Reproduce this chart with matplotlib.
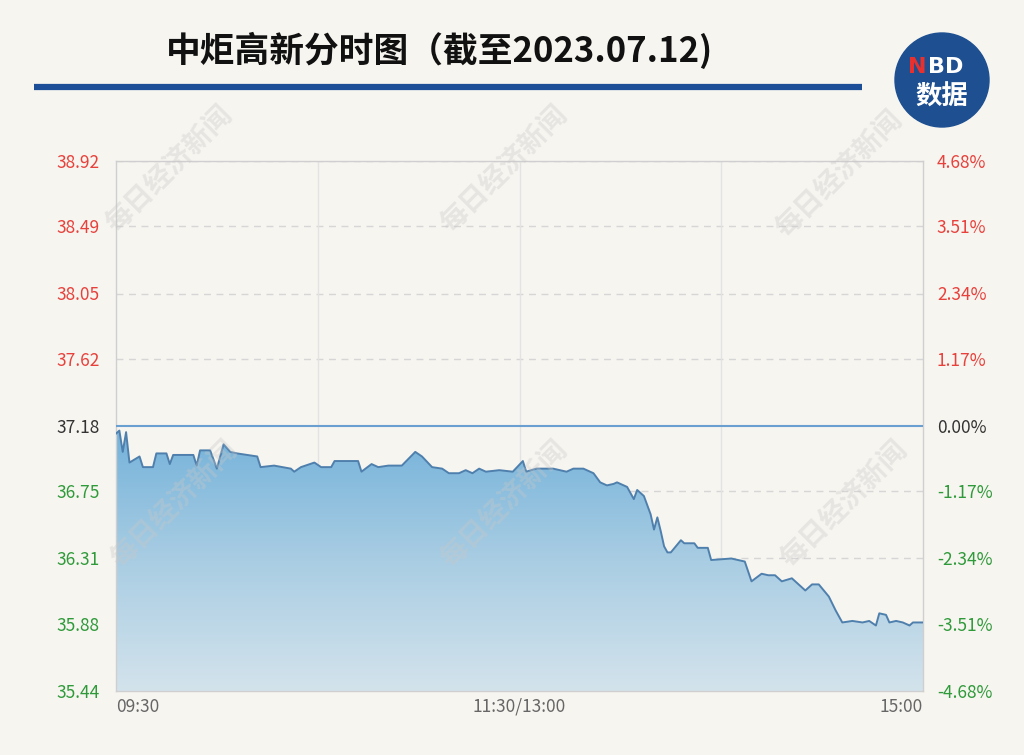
import numpy as np
import matplotlib
matplotlib.use("Agg")
import matplotlib.pyplot as plt
from matplotlib.patches import Circle
from matplotlib.colors import LinearSegmentedColormap

plt.rcParams['font.family'] = ['Noto Sans CJK SC', 'DejaVu Sans']

# ---------------- data ----------------
title = "中炬高新分时图（截至2023.07.12)"
prev_close = 37.18
minutes = [0, 1, 2, 3, 4, 7, 8, 11, 12, 15, 16, 17, 23, 24, 25, 28, 30, 32, 34, 36, 42, 43,
           47, 52, 53, 55, 59, 61, 64, 65, 72, 73, 76, 78, 81, 85, 89, 91, 94, 97, 99, 102,
           104, 106, 108, 110, 114, 118, 121, 122, 125, 130, 134, 136, 139, 142, 144, 146,
           148, 149, 151, 152, 154, 155, 157, 159, 160, 161, 162, 163, 164, 165, 168, 169,
           172, 173, 176, 177, 183, 185, 187, 189, 192, 194, 196, 198, 201, 203, 205, 207,
           209, 212, 214, 216, 219, 222, 224, 226, 227, 229, 230, 232, 234, 236, 237, 240]
prices = [37.13, 37.15, 37.01, 37.14, 36.94, 36.98, 36.91, 36.91, 37.00, 37.00, 36.93, 36.99,
          36.99, 36.92, 37.02, 37.02, 36.90, 37.06, 37.01, 37.00, 36.98, 36.91,
          36.92, 36.90, 36.88, 36.91, 36.94, 36.91, 36.91, 36.95, 36.95, 36.88, 36.93, 36.91,
          36.92, 36.92, 37.01, 36.98, 36.91, 36.90, 36.87, 36.87,
          36.89, 36.87, 36.90, 36.88, 36.89, 36.88, 36.95, 36.88, 36.90, 36.90, 36.88, 36.90,
          36.90, 36.87, 36.81, 36.79,
          36.80, 36.81, 36.79, 36.78, 36.70, 36.76, 36.72, 36.60, 36.50, 36.58, 36.49, 36.39,
          36.35, 36.35, 36.43, 36.41,
          36.41, 36.38, 36.38, 36.30, 36.31, 36.30, 36.29, 36.16, 36.21, 36.20, 36.20, 36.16,
          36.18, 36.14, 36.10, 36.14,
          36.14, 36.06, 35.97, 35.89, 35.90, 35.89, 35.90, 35.87, 35.95, 35.94, 35.89, 35.90,
          35.89, 35.87, 35.89, 35.89]
price_ticks = [38.92, 38.49, 38.05, 37.62, 37.18, 36.75, 36.31, 35.88, 35.44]
pct_labels = ["4.68%", "3.51%", "2.34%", "1.17%", "0.00%", "-1.17%", "-2.34%", "-3.51%", "-4.68%"]
time_ticks = [0, 120, 240]
time_labels = ["09:30", "11:30/13:00", "15:00"]

# ---------------- styling ----------------
BG = "#f7f5f0"
RED = "#e8413c"
GREEN = "#2f9a3a"
DARK = "#333333"

fig = plt.figure(figsize=(10.24, 7.55), dpi=100, facecolor=BG)
ax = fig.add_axes([116/1024, 1-691/755, (923-116)/1024, (691-161)/755])
ax.set_facecolor(BG)

x = np.array(minutes, dtype=float)
y = np.array(prices)
ymin, ymax = price_ticks[-1], price_ticks[0]
ax.set_xlim(0, 240)
ax.set_ylim(ymin, ymax)

# gradient fill under line
poly = ax.fill_between(x, y, ymin, color='none', lw=0)
cmap = LinearSegmentedColormap.from_list("g", ["#d3e3ec", "#a9cde3", "#74b2da"])
grad = np.linspace(0, 1, 256).reshape(-1, 1)
im = ax.imshow(grad, cmap=cmap, aspect='auto', origin='lower',
               extent=[0, 240, ymin, max(prices)], zorder=1)
path = poly.get_paths()[0]
im.set_clip_path(path, transform=ax.transData)

ax.plot(x, y, color="#4f80ad", lw=1.4, zorder=3)

# grid
for t in price_ticks:
    if abs(t - prev_close) > 1e-6:
        ax.axhline(t, color="#d6d6d6", lw=1, ls=(0, (5, 4)), zorder=0.5)
ax.axhline(prev_close, color="#6a9fd2", lw=1.5, zorder=4)
for v in [60, 120, 180]:
    ax.axvline(v, color="#e3e3e3", lw=1, zorder=0.5)

for s in ax.spines.values():
    s.set_color("#cfcfcf")
    s.set_linewidth(1)

ax.set_yticks(price_ticks)
ax.set_yticklabels([f"{t:.2f}" for t in price_ticks])
ax.tick_params(axis='y', length=0, pad=12, labelsize=12.5)
for lab, t in zip(ax.get_yticklabels(), price_ticks):
    lab.set_color(RED if t > prev_close + 1e-6 else (GREEN if t < prev_close - 1e-6 else DARK))

ax.set_xticks(time_ticks)
ax.set_xticklabels(time_labels)
ax.tick_params(axis='x', length=0, pad=5, labelsize=12.5, colors="#666666")
xl = ax.get_xticklabels()
xl[0].set_horizontalalignment('left')
xl[2].set_horizontalalignment('right')

ax2 = ax.twinx()
ax2.set_ylim(ymin, ymax)
ax2.set_yticks(price_ticks)
ax2.set_yticklabels(pct_labels)
ax2.tick_params(axis='y', length=0, pad=10, labelsize=12.5)
for lab, t in zip(ax2.get_yticklabels(), price_ticks):
    lab.set_color(RED if t > prev_close + 1e-6 else (GREEN if t < prev_close - 1e-6 else DARK))
for s in ax2.spines.values():
    s.set_visible(False)

# title & rule
fig.text(440/1024, 1-50/755, title, ha='center', va='center', fontsize=25,
         fontweight='bold', color="#111111")
fig.add_artist(plt.Line2D([34/1024, 862/1024], [1-87/755, 1-87/755], color="#1c4f97",
                          lw=4.5, solid_capstyle='butt'))

# logo
logo_ax = fig.add_axes([0, 0, 1, 1], facecolor='none')
logo_ax.set_xlim(0, 1024)
logo_ax.set_ylim(755, 0)
logo_ax.axis('off')
logo_ax.add_patch(Circle((942, 80), 47, color="#1d4f91", zorder=5))
logo_ax.text(927, 67, "N", color="#e8312f", fontsize=16, fontweight='bold', ha='right',
             va='center', family='DejaVu Sans', zorder=6)
logo_ax.text(928, 67, "BD", color="white", fontsize=16, fontweight='bold', ha='left',
             va='center', family='DejaVu Sans', zorder=6)
logo_ax.text(942, 97, "数据", color="white", fontsize=19, fontweight='bold', ha='center',
             va='center', zorder=6)

# watermarks
for (cx, cy) in [(170, 170), (505, 170), (840, 175), (175, 505), (505, 505), (845, 505)]:
    logo_ax.text(cx, cy, "每日经济新闻", rotation=45, fontsize=20, fontweight='bold',
                 color="#c8c8c8", alpha=0.35, ha='center', va='center', zorder=7)

fig.savefig("out.png", dpi=100, facecolor=BG)
